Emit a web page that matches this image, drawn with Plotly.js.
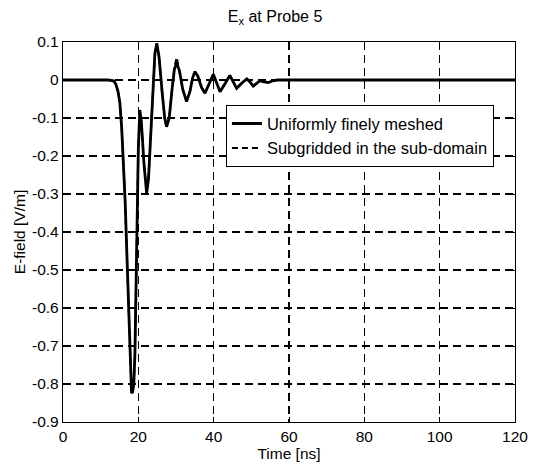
<!DOCTYPE html>
<html>
<head>
<meta charset="utf-8">
<script src="https://cdn.plot.ly/plotly-3.0.1.min.js"></script>
<style>html,body{margin:0;padding:0;background:#fff;}#chart{width:534px;height:468px;}</style>
</head>
<body>
<div id="chart"></div>
<script>
// Time [ns]
const timeUniform = [0, 12, 13.4, 14, 14.6, 15.1, 15.6, 16.5, 17.2, 17.8, 18.2, 18.5, 18.8, 19.1, 19.6, 20.0, 20.4, 20.8, 21.5, 22.2, 22.7, 23.3, 23.9, 24.4, 24.9, 25.5, 26.3, 27.0, 27.5, 28.2, 29.0, 29.6, 30.2, 30.9, 31.8, 32.8, 33.7, 34.4, 35.0, 35.8, 36.8, 37.7, 38.8, 39.9, 40.8, 41.7, 43.0, 44.3, 45.2, 46.1, 47.5, 48.8, 49.7, 50.5, 51.4, 52.3, 53.4, 54.5, 55.7, 57.0, 120];
const efieldUniform = [0, 0, -0.002, -0.01, -0.03, -0.06, -0.13, -0.32, -0.53, -0.73, -0.824, -0.82, -0.80, -0.72, -0.45, -0.18, -0.079, -0.11, -0.22, -0.298, -0.26, -0.13, 0.0, 0.07, 0.097, 0.06, -0.03, -0.1, -0.123, -0.1, -0.02, 0.03, 0.044, 0.025, -0.025, -0.057, -0.03, 0.005, 0.022, 0.01, -0.02, -0.035, -0.01, 0.015, -0.008, -0.031, -0.01, 0.012, -0.005, -0.022, -0.008, 0.003, -0.006, -0.016, -0.009, -0.002, -0.005, -0.007, -0.002, 0, 0];
const timeSubgrid = [0, 12, 13.4, 14, 14.6, 15.1, 15.6, 16.5, 17.2, 17.8, 18.2, 18.5, 18.8, 19.1, 19.6, 20.0, 20.4, 20.8, 21.5, 22.2, 22.7, 23.3, 23.9, 24.4, 24.9, 25.5, 26.3, 27.0, 27.5, 28.2, 29.0, 29.6, 30.2, 30.9, 31.8, 32.8, 33.7, 34.4, 35.0, 35.8, 36.8, 37.7, 38.8, 39.9, 40.8, 41.7, 43.0, 44.3, 45.2, 46.1, 47.5, 48.8, 49.7, 50.5, 51.4, 52.3, 53.4, 54.5, 55.7, 57.0, 120];
const efieldSubgrid = [0, 0, -0.002, -0.01, -0.03, -0.06, -0.13, -0.32, -0.53, -0.73, -0.82, -0.82, -0.80, -0.72, -0.45, -0.18, -0.08, -0.11, -0.22, -0.295, -0.26, -0.13, 0.0, 0.07, 0.095, 0.06, -0.03, -0.1, -0.12, -0.1, -0.02, 0.035, 0.06, 0.025, -0.025, -0.055, -0.03, 0.005, 0.022, 0.01, -0.02, -0.034, -0.01, 0.015, -0.008, -0.03, -0.01, 0.012, -0.005, -0.021, -0.008, 0.003, -0.006, -0.016, -0.009, -0.002, -0.005, -0.007, -0.002, 0, 0];
const seriesNames = ["Uniformly finely meshed", "Subgridded in the sub-domain"];
const xTickVals = [0, 20, 40, 60, 80, 100, 120];
const xTickText = ["0", "20", "40", "60", "80", "100", "120"];
const yTickVals = [0.1, 0, -0.1, -0.2, -0.3, -0.4, -0.5, -0.6, -0.7, -0.8, -0.9];
const yTickText = ["0.1", "0", "-0.1", "-0.2", "-0.3", "-0.4", "-0.5", "-0.6", "-0.7", "-0.8", "-0.9"];

const font = "Liberation Sans, Arial, Helvetica, sans-serif";
const traces = [
  {x: timeUniform, y: efieldUniform, name: seriesNames[0], type: "scatter", mode: "lines",
   line: {color: "#000", width: 2.8}},
  {x: timeSubgrid, y: efieldSubgrid, name: seriesNames[1], type: "scatter", mode: "lines",
   line: {color: "#000", width: 2, dash: "6px,4px"}}
];
const axisCommon = {
  showline: true, linecolor: "#000", linewidth: 1.2, mirror: "ticks",
  ticks: "inside", ticklen: 5, tickcolor: "#000",
  showgrid: true, gridcolor: "#000", gridwidth: 1.2, griddash: "8px,5px",
  zeroline: false, tickfont: {family: font, size: 15.5, color: "#000"}
};
const layout = {
  width: 534, height: 468,
  margin: {l: 63, r: 19, t: 42, b: 46},
  paper_bgcolor: "#fff", plot_bgcolor: "#fff",
  font: {family: font, color: "#000"},
  title: {text: "E<sub>x</sub> at Probe 5", font: {family: font, size: 16, color: "#000"},
          x: 0.515, xanchor: "center", y: 0.966, yanchor: "middle"},
  xaxis: Object.assign({}, axisCommon, {
    range: [0, 120], tickvals: xTickVals, ticktext: xTickText,
    title: {text: "Time [ns]", font: {family: font, size: 15.5, color: "#000"}, standoff: 0}
  }),
  yaxis: Object.assign({}, axisCommon, {
    range: [-0.9, 0.1], tickvals: yTickVals, ticktext: yTickText,
    title: {text: "E-field [V/m]", font: {family: font, size: 15.5, color: "#000"}, standoff: 2}
  }),
  showlegend: true,
  legend: {x: 0.36, y: 0.834, xanchor: "left", yanchor: "top",
           bgcolor: "#fff", bordercolor: "#000", borderwidth: 1.2,
           font: {family: font, size: 16.5, color: "#000"}, tracegroupgap: 0}
};
Plotly.newPlot("chart", traces, layout, {displayModeBar: false, staticPlot: true});
</script>
</body>
</html>
